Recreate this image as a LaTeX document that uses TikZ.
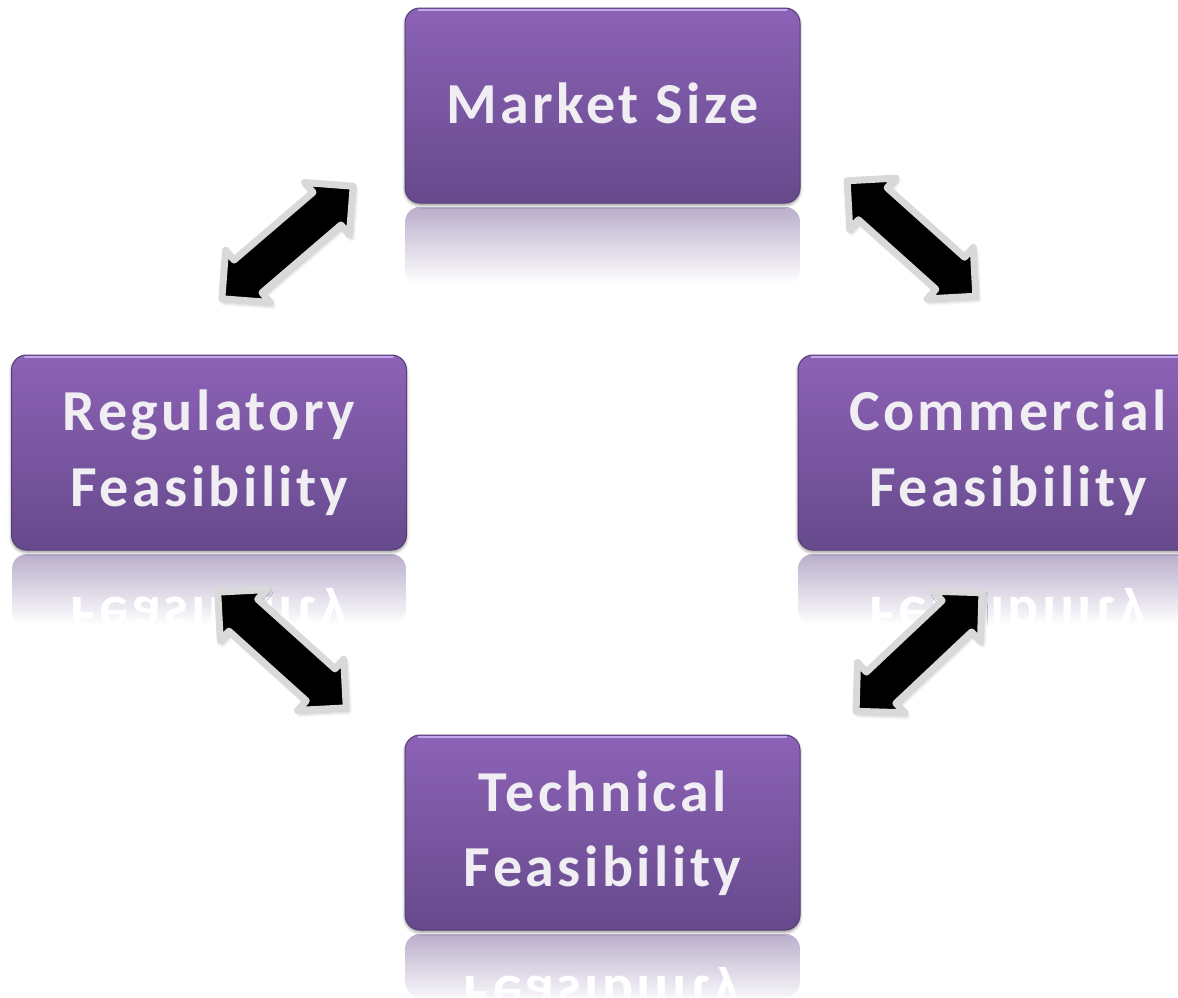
\documentclass[tikz,border=0pt]{standalone}
\usepackage{fontspec}
\setmainfont{Carlito}
\newfontfamily\boxfont[LetterSpace=6]{Carlito}
\usetikzlibrary{shapes.arrows,shadows.blur}
\definecolor{boxtop}{RGB}{140,98,182}
\definecolor{boxbot}{RGB}{102,74,140}
\definecolor{boxedge}{RGB}{88,62,118}
\definecolor{boxhl}{RGB}{196,166,236}
\definecolor{refltop}{RGB}{186,174,203}
\definecolor{arrowedge}{RGB}{217,217,217}
\definecolor{boxtext}{RGB}{240,238,243}
\tikzset{
  boxnode/.style={rounded corners=15pt, minimum width=395pt, minimum height=195pt,
    inner sep=0pt, top color=boxtop, bottom color=boxbot, draw=boxedge, line width=1pt,
    blur shadow={shadow xshift=0pt, shadow yshift=-2pt, shadow blur radius=3pt, shadow opacity=45}},
  hiline/.style={draw=boxhl, line width=2pt, line cap=round},
  boxlabel/.style={anchor=base, inner sep=0pt, text=boxtext, font=\boxfont\bfseries\fontsize{58}{70}\selectfont},
  refllabel/.style={boxlabel, text=white, yscale=-1},
  reflshade/.style={top color=refltop, bottom color=white},
  dblarrow/.style={double arrow, double arrow head extend=13pt, inner xsep=0pt, inner ysep=18pt,
    minimum height=173pt, fill=black, draw=arrowedge, line width=7pt,
    line join=round,
    blur shadow={shadow xshift=2pt, shadow yshift=-3pt, shadow blur radius=4pt, shadow opacity=35}}
}
\begin{document}
\begin{tikzpicture}[x=1pt,y=-1pt]
\useasboundingbox (0,0) rectangle (1178,997);

% reflections
\begin{scope}
  \clip[rounded corners=15pt] (405,207) rectangle (800,285);
  \shade[reflshade] (405,207) rectangle (800,285);
\end{scope}
\begin{scope}
  \clip[rounded corners=15pt] (12,554) rectangle (406,625);
  \shade[reflshade] (12,554) rectangle (406,625);
  \node[refllabel] (rf-r) at (209,597) {Feasibility};
\end{scope}
\begin{scope}
  \clip[rounded corners=15pt] (798,554) rectangle (1218,625);
  \shade[reflshade] (798,554) rectangle (1218,625);
  \node[refllabel] (cf-r) at (1008,597) {Feasibility};
\end{scope}
\begin{scope}
  \clip[rounded corners=15pt] (405,934) rectangle (800,997);
  \shade[reflshade] (405,934) rectangle (800,1005);
  \node[refllabel] (tf-r) at (602.5,976) {Feasibility};
\end{scope}

% boxes
\node[boxnode] (ms) at (602.5,105.5) {};
\node[boxnode] (rf) at (209,452.5) {};
\node[boxnode, minimum width=420pt] (cf) at (1008,452.5) {};
\node[boxnode] (tf) at (602.5,832.5) {};
\foreach \b in {ms,rf,cf,tf}
  \draw[hiline] ([xshift=14pt,yshift=-2pt]\b.north west) -- ([xshift=-14pt,yshift=-2pt]\b.north east);

% texts
\node[boxlabel] (ms-t) at (602.5,123) {Market Size};
\node[boxlabel] (rf-t1) at (209,430) {Regulatory};
\node[boxlabel] (rf-t2) at (209,506) {Feasibility};
\node[boxlabel] (cf-t1) at (1008,430) {Commercial};
\node[boxlabel] (cf-t2) at (1008,506) {Feasibility};
\node[boxlabel] (tf-t1) at (602.5,811) {Technical};
\node[boxlabel] (tf-t2) at (602.5,886) {Feasibility};

% arrows
\node[dblarrow, rotate=40.6] (a1) at (287.5,242.5) {};
\node[dblarrow, rotate=-41.9] (a2) at (911.5,238.5) {};
\node[dblarrow, rotate=-42] (a3) at (282,650) {};
\node[dblarrow, rotate=43.3] (a4) at (919,652) {};
\end{tikzpicture}
\end{document}
